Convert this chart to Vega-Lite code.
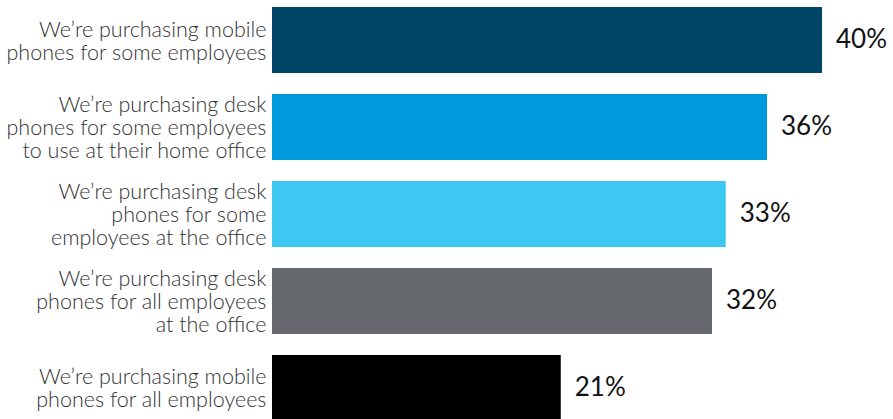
{
  "$schema": "https://vega.github.io/schema/vega-lite/v6.json",
  "width": 550,
  "height": 414,
  "autosize": "none",
  "padding": {"left": 272, "top": 7, "right": 71, "bottom": 0},
  "background": "white",
  "config": {"view": {"stroke": null}, "font": "Lato"},
  "data": {
    "values": [
      {"label": "We’re purchasing mobile\u00a0|phones for some employees", "value": 0.40, "order": 1},
      {"label": "We’re purchasing desk\u00a0|phones for some employees|to use at their home office", "value": 0.36, "order": 2},
      {"label": "We’re purchasing desk\u00a0|phones for some\u00a0|employees at the office", "value": 0.33, "order": 3},
      {"label": "We’re purchasing desk\u00a0|phones for all employees|at the office\u00a0", "value": 0.32, "order": 4},
      {"label": "We’re purchasing mobile\u00a0|phones for all employees", "value": 0.21, "order": 5}
    ]
  },
  "encoding": {
    "y": {
      "field": "label",
      "type": "nominal",
      "sort": {"field": "order"},
      "scale": {"paddingInner": 0.24, "paddingOuter": 0},
      "axis": {
        "title": null,
        "ticks": false,
        "domain": false,
        "labelExpr": "split(datum.label, '|')",
        "labelFont": "Lato",
        "labelFontSize": 21.5,
        "labelFontWeight": 300,
        "labelColor": "#333333",
        "labelPadding": 6,
        "labelLineHeight": 23,
        "labelLimit": 300,
        "labelOffset": {"condition": {"test": "indexof(datum.value, 'office') >= 0", "value": -21}, "value": -9.5}
      }
    },
    "x": {
      "field": "value",
      "type": "quantitative",
      "scale": {"domain": [0, 0.4], "nice": false},
      "axis": null
    }
  },
  "layer": [
    {
      "mark": {"type": "bar"},
      "encoding": {
        "color": {
          "field": "order",
          "type": "nominal",
          "scale": {"domain": [1, 2, 3, 4, 5], "range": ["#004466", "#0099dd", "#3cc8f0", "#65686d", "#000000"]},
          "legend": null
        }
      }
    },
    {
      "mark": {"type": "text", "align": "left", "baseline": "middle", "dx": 14, "font": "Lato", "fontSize": 26, "color": "#111111"},
      "encoding": {
        "text": {"field": "value", "type": "quantitative", "format": ".0%"}
      }
    }
  ]
}
